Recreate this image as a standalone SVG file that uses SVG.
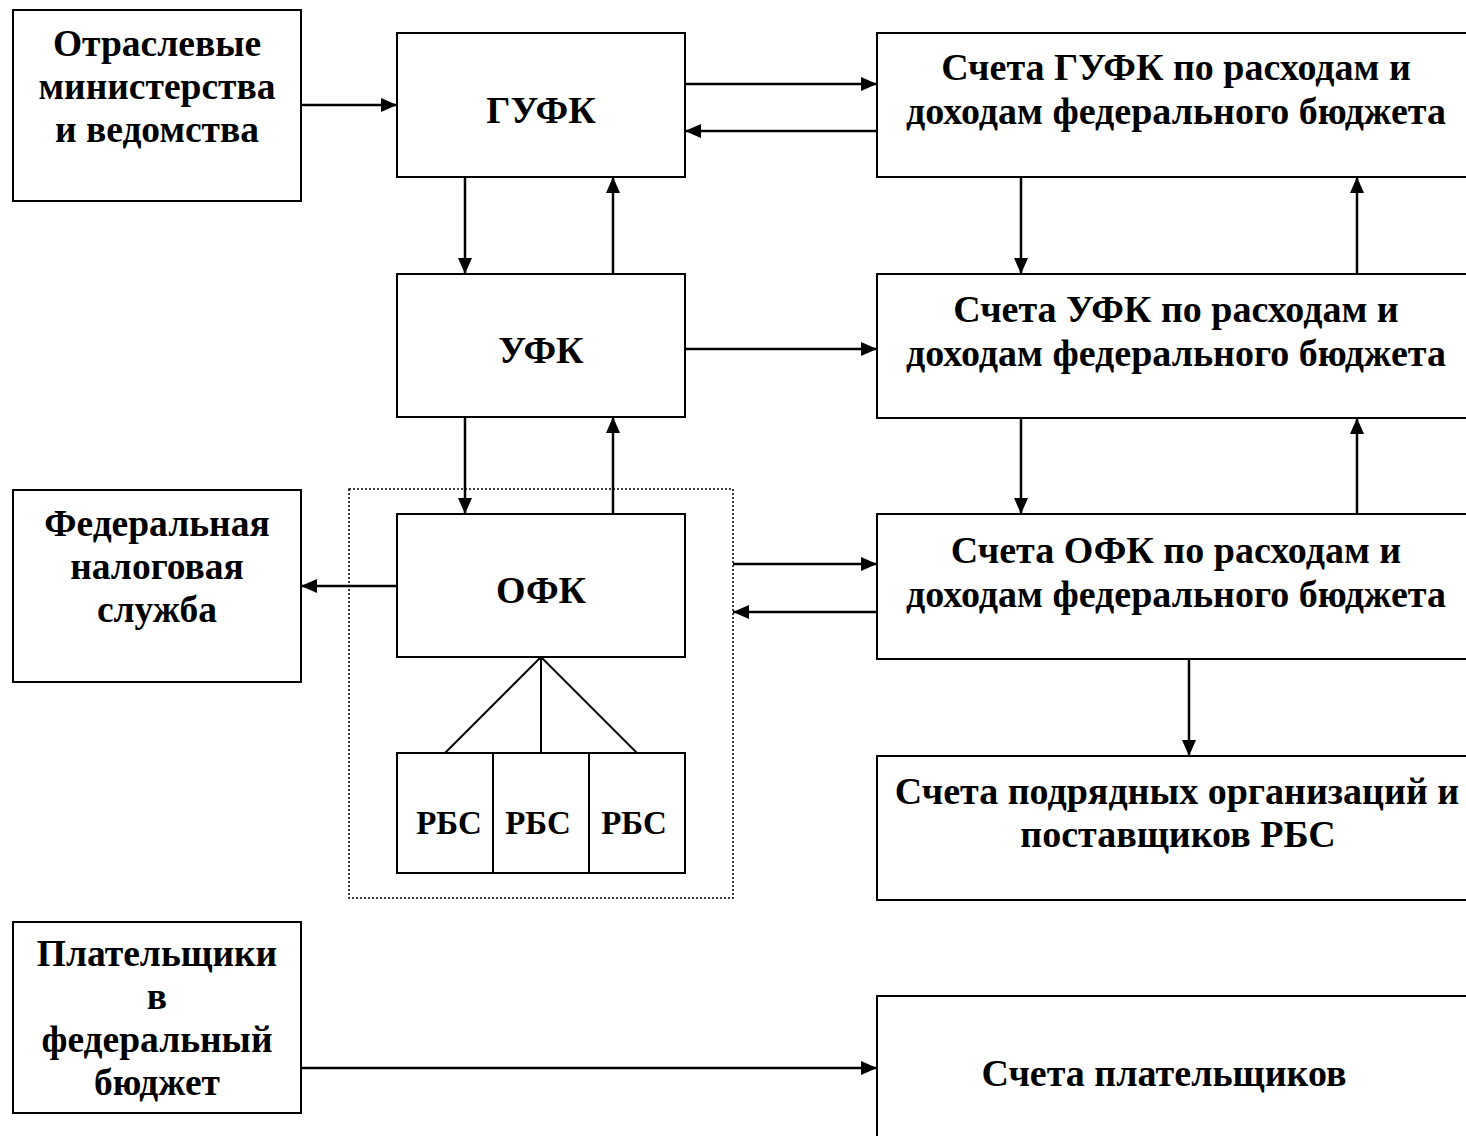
<svg xmlns="http://www.w3.org/2000/svg" width="1466" height="1136" viewBox="0 0 1466 1136">
<style>
.b{fill:#fff;stroke:#000;stroke-width:2}
.t{font-family:"Liberation Serif","Times New Roman",serif;font-weight:bold;font-size:38px;text-anchor:middle;fill:#000}
.s{font-size:37.5px}
.r{font-size:33px}
.c{stroke:#000;stroke-width:2.5;fill:none}
.l{stroke:#000;stroke-width:2;fill:none}
</style>
<defs>
<marker id="ah" viewBox="0 0 16 14" refX="16" refY="7" markerWidth="16" markerHeight="14" markerUnits="userSpaceOnUse" orient="auto">
<path d="M0,0 L16,7 L0,14 z" fill="#000"/>
</marker>
</defs>
<rect width="1466" height="1136" fill="#fff"/>
<g id="dotted-group"><rect x="349" y="489" width="384" height="409" fill="none" stroke="#000" stroke-width="1.5" stroke-dasharray="2,2"/></g>
<g id="n-otrasl"><rect class="b" x="13" y="10" width="288" height="191"/><text class="t s" x="157" y="56">Отраслевые</text><text class="t s" x="157" y="99">министерства</text><text class="t s" x="157" y="142">и ведомства</text></g>
<g id="n-gufk"><rect class="b" x="397" y="33" width="288" height="144"/><text class="t" x="541" y="123">ГУФК</text></g>
<g id="n-r1"><rect class="b" x="877" y="33" width="600" height="144"/><text class="t" x="1176" y="80">Счета ГУФК по расходам и</text><text class="t" x="1176" y="124">доходам федерального бюджета</text></g>
<g id="n-ufk"><rect class="b" x="397" y="274" width="288" height="143"/><text class="t" x="541" y="363">УФК</text></g>
<g id="n-r2"><rect class="b" x="877" y="274" width="600" height="144"/><text class="t" x="1176" y="322">Счета УФК по расходам и</text><text class="t" x="1176" y="366">доходам федерального бюджета</text></g>
<g id="n-fns"><rect class="b" x="13" y="490" width="288" height="192"/><text class="t s" x="157" y="536">Федеральная</text><text class="t s" x="157" y="579">налоговая</text><text class="t s" x="157" y="622">служба</text></g>
<g id="n-ofk"><rect class="b" x="397" y="514" width="288" height="143"/><text class="t" x="541" y="603">ОФК</text></g>
<g id="n-r3"><rect class="b" x="877" y="514" width="600" height="145"/><text class="t" x="1176" y="563">Счета ОФК по расходам и</text><text class="t" x="1176" y="607">доходам федерального бюджета</text></g>
<g id="n-rbs1"><rect class="b" x="397" y="753" width="96" height="120"/><text class="t r" x="449" y="834">РБС</text></g>
<g id="n-rbs2"><rect class="b" x="493" y="753" width="96" height="120"/><text class="t r" x="538" y="834">РБС</text></g>
<g id="n-rbs3"><rect class="b" x="589" y="753" width="96" height="120"/><text class="t r" x="634" y="834">РБС</text></g>
<g id="n-r4"><rect class="b" x="877" y="756" width="600" height="144"/><text class="t" x="1177" y="804">Счета подрядных организаций и</text><text class="t" x="1178" y="847">поставщиков РБС</text></g>
<g id="n-payers"><rect class="b" x="13" y="922" width="288" height="191"/><text class="t s" x="157" y="966">Плательщики</text><text class="t s" x="157" y="1009">в</text><text class="t s" x="157" y="1052">федеральный</text><text class="t s" x="157" y="1095">бюджет</text></g>
<g id="n-r5"><rect class="b" x="877" y="996" width="600" height="160"/><text class="t" x="1164" y="1086">Счета плательщиков</text></g>
<g id="connectors">
<line class="c" x1="301" y1="105" x2="397" y2="105" marker-end="url(#ah)"/>
<line class="c" x1="685" y1="84" x2="877" y2="84" marker-end="url(#ah)"/>
<line class="c" x1="877" y1="131" x2="685" y2="131" marker-end="url(#ah)"/>
<line class="c" x1="465" y1="177" x2="465" y2="274" marker-end="url(#ah)"/>
<line class="c" x1="613" y1="274" x2="613" y2="177" marker-end="url(#ah)"/>
<line class="c" x1="1021" y1="177" x2="1021" y2="274" marker-end="url(#ah)"/>
<line class="c" x1="1357" y1="274" x2="1357" y2="177" marker-end="url(#ah)"/>
<line class="c" x1="685" y1="349" x2="877" y2="349" marker-end="url(#ah)"/>
<line class="c" x1="465" y1="417" x2="465" y2="514" marker-end="url(#ah)"/>
<line class="c" x1="613" y1="514" x2="613" y2="417" marker-end="url(#ah)"/>
<line class="c" x1="1021" y1="418" x2="1021" y2="514" marker-end="url(#ah)"/>
<line class="c" x1="1357" y1="514" x2="1357" y2="418" marker-end="url(#ah)"/>
<line class="c" x1="397" y1="586" x2="301" y2="586" marker-end="url(#ah)"/>
<line class="c" x1="733" y1="564" x2="877" y2="564" marker-end="url(#ah)"/>
<line class="c" x1="877" y1="612" x2="733" y2="612" marker-end="url(#ah)"/>
<line class="c" x1="1189" y1="659" x2="1189" y2="756" marker-end="url(#ah)"/>
<line class="c" x1="301" y1="1068" x2="877" y2="1068" marker-end="url(#ah)"/>
<path class="l" d="M541,657 L445,753 M541,657 L541,753 M541,657 L637,753"/>
</g>
</svg>
